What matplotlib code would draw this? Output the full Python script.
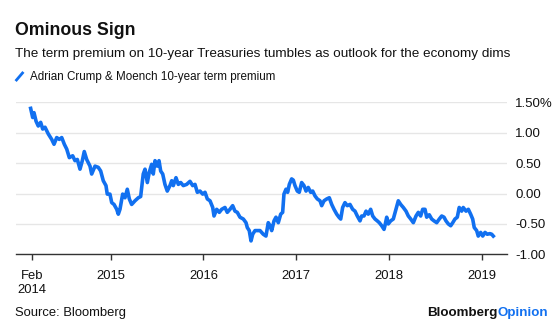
import matplotlib

matplotlib.use("Agg")

import matplotlib.pyplot as plt
from matplotlib.lines import Line2D

# Data (decimal year, term premium in %).
YEARS = [
    2014.137, 2014.159, 2014.173, 2014.195, 2014.219, 2014.245, 2014.267, 2014.292,
    2014.327, 2014.364, 2014.389, 2014.418, 2014.446, 2014.472, 2014.500, 2014.526,
    2014.554, 2014.590, 2014.615, 2014.640, 2014.669, 2014.694, 2014.715, 2014.741,
    2014.777, 2014.795, 2014.831, 2014.866, 2014.892, 2014.920, 2014.949, 2014.963,
    2014.992, 2015.011, 2015.036, 2015.065, 2015.082, 2015.100, 2015.129, 2015.154,
    2015.179, 2015.201, 2015.226, 2015.262, 2015.298, 2015.323, 2015.351, 2015.370,
    2015.395, 2015.416, 2015.442, 2015.459, 2015.478, 2015.502, 2015.521, 2015.539,
    2015.561, 2015.585, 2015.610, 2015.639, 2015.658, 2015.675, 2015.704, 2015.729,
    2015.755, 2015.783, 2015.819, 2015.855, 2015.884, 2015.909, 2015.934, 2015.963,
    2015.992, 2016.017, 2016.042, 2016.071, 2016.100, 2016.114, 2016.143, 2016.171,
    2016.197, 2016.232, 2016.257, 2016.286, 2016.315, 2016.340, 2016.365, 2016.394,
    2016.430, 2016.459, 2016.473, 2016.494, 2016.513, 2016.531, 2016.556, 2016.581,
    2016.610, 2016.645, 2016.674, 2016.699, 2016.718, 2016.736, 2016.761, 2016.782,
    2016.807, 2016.833, 2016.854, 2016.868, 2016.890, 2016.908, 2016.926, 2016.951,
    2016.969, 2016.987, 2017.012, 2017.033, 2017.059, 2017.084, 2017.106, 2017.130,
    2017.156, 2017.178, 2017.203, 2017.228, 2017.257, 2017.275, 2017.300, 2017.329,
    2017.357, 2017.383, 2017.408, 2017.437, 2017.461, 2017.480, 2017.501, 2017.526,
    2017.551, 2017.580, 2017.609, 2017.634, 2017.659, 2017.688, 2017.706, 2017.731,
    2017.753, 2017.777, 2017.803, 2017.825, 2017.850, 2017.874, 2017.896, 2017.922,
    2017.947, 2017.957, 2017.976, 2017.993, 2018.019, 2018.047, 2018.076, 2018.101,
    2018.127, 2018.155, 2018.184, 2018.209, 2018.235, 2018.263, 2018.292, 2018.317,
    2018.342, 2018.364, 2018.389, 2018.407, 2018.435, 2018.461, 2018.486, 2018.515,
    2018.543, 2018.569, 2018.594, 2018.615, 2018.640, 2018.666, 2018.688, 2018.712,
    2018.737, 2018.758, 2018.784, 2018.801, 2018.831, 2018.856, 2018.881, 2018.903,
    2018.920, 2018.946, 2018.963, 2018.989, 2019.011, 2019.036, 2019.060, 2019.089,
    2019.108, 2019.125,
]
PREMIUM = [
    1.40, 1.25, 1.33, 1.19, 1.11, 1.17, 1.06, 1.09,
    0.98, 0.89, 0.81, 0.92, 0.89, 0.92, 0.81, 0.73,
    0.59, 0.62, 0.54, 0.56, 0.40, 0.54, 0.69, 0.56,
    0.45, 0.32, 0.45, 0.43, 0.37, 0.21, 0.13, -0.01,
    -0.01, -0.15, -0.18, -0.26, -0.34, -0.26, -0.01, -0.07,
    0.07, -0.09, -0.18, -0.12, -0.07, -0.05, 0.32, 0.40,
    0.18, 0.35, 0.48, 0.32, 0.54, 0.45, 0.54, 0.37,
    0.32, 0.15, 0.04, 0.13, 0.21, 0.13, 0.26, 0.15,
    0.18, 0.13, 0.15, 0.20, 0.13, 0.15, 0.02, 0.04,
    -0.01, 0.02, -0.09, -0.12, -0.23, -0.37, -0.26, -0.31,
    -0.26, -0.23, -0.31, -0.26, -0.20, -0.29, -0.31, -0.39,
    -0.42, -0.48, -0.56, -0.61, -0.78, -0.67, -0.61, -0.61,
    -0.61, -0.67, -0.70, -0.48, -0.53, -0.61, -0.45, -0.39,
    -0.48, -0.34, -0.31, -0.01, 0.07, 0.02, 0.15, 0.24,
    0.22, 0.13, 0.04, 0.02, 0.18, 0.13, 0.04, 0.10,
    0.02, 0.04, -0.04, -0.09, -0.12, -0.20, -0.12, -0.09,
    -0.07, -0.18, -0.26, -0.34, -0.39, -0.42, -0.23, -0.15,
    -0.20, -0.18, -0.26, -0.29, -0.37, -0.45, -0.37, -0.37,
    -0.29, -0.34, -0.26, -0.37, -0.42, -0.45, -0.48, -0.53,
    -0.59, -0.53, -0.39, -0.50, -0.45, -0.42, -0.26, -0.12,
    -0.18, -0.23, -0.29, -0.37, -0.42, -0.48, -0.37, -0.31,
    -0.37, -0.26, -0.26, -0.39, -0.35, -0.42, -0.45, -0.48,
    -0.42, -0.37, -0.39, -0.45, -0.50, -0.53, -0.48, -0.42,
    -0.39, -0.23, -0.29, -0.23, -0.29, -0.26, -0.34, -0.42,
    -0.56, -0.61, -0.70, -0.64, -0.70, -0.64, -0.67, -0.66,
    -0.67, -0.70,
]
X_TICKS = [2014.148, 2015.0, 2016.0, 2017.0, 2018.0, 2019.0]
X_TICK_LABELS = ["Feb\n2014", "2015", "2016", "2017", "2018", "2019"]
Y_TICKS = [1.5, 1.0, 0.5, 0.0, -0.5, -1.0]
Y_TICK_LABELS = ["1.50%", "1.00", "0.50", "0.00", "-0.50", "-1.00"]

LINE_COLOR = "#1170F0"
GRID_COLOR = "#E6E6E6"
TEXT_COLOR = "#111111"
FONT = "Liberation Sans"

W, H = 560, 325

plt.rcParams["font.family"] = FONT

fig = plt.figure(figsize=(W / 100, H / 100), dpi=100)
ax = fig.add_axes([16 / W, 1 - 254.3 / H, (507 - 16) / W, (254.3 - 102.3) / H])

ax.plot(YEARS, PREMIUM, color=LINE_COLOR, linewidth=2.6, solid_joinstyle="round", zorder=3)

ax.set_xlim(2013.979, 2019.273)
ax.set_ylim(-1.0, 1.5)
ax.set_yticks(Y_TICKS)
ax.set_yticklabels(Y_TICK_LABELS)
ax.set_xticks(X_TICKS)
ax.set_xticklabels(X_TICK_LABELS, linespacing=1.3)

ax.yaxis.tick_right()
ax.tick_params(axis="y", length=0, pad=6, labelsize=9.5, labelcolor=TEXT_COLOR)
ax.tick_params(axis="x", length=4, width=1, color="#333333", pad=7, labelsize=9.4, labelcolor=TEXT_COLOR)
for lbl in ax.get_yticklabels():
    lbl.set_horizontalalignment("left")

ax.grid(True, axis="y", color=GRID_COLOR, linewidth=1.0)
ax.set_axisbelow(True)
for side in ["top", "left", "right"]:
    ax.spines[side].set_visible(False)
ax.spines["bottom"].set_color("#333333")
ax.spines["bottom"].set_linewidth(1.0)
ax.spines["bottom"].set_zorder(4)

# Header
fig.text(15 / W, 1 - 35 / H, "Ominous Sign", fontsize=12.8, fontweight="bold", color=TEXT_COLOR)
fig.text(15 / W, 1 - 57 / H,
         "The term premium on 10-year Treasuries tumbles as outlook for the economy dims",
         fontsize=9.7, color=TEXT_COLOR)
fig.add_artist(Line2D([16.5 / W, 22.5 / W], [1 - 80 / H, 1 - 73 / H], color=LINE_COLOR,
                      linewidth=2.0, transform=fig.transFigure))
fig.text(30 / W, 1 - 80 / H, "Adrian Crump & Moench 10-year term premium",
         fontsize=8.4, color=TEXT_COLOR)

# Footer
fig.text(15 / W, 1 - 316 / H, "Source: Bloomberg", fontsize=9.4, color=TEXT_COLOR)
fig.text(498 / W, 1 - 316 / H, "Bloomberg", fontsize=9.6, fontweight="bold",
         color=TEXT_COLOR, ha="right")
fig.text(498 / W, 1 - 316 / H, "Opinion", fontsize=9.6, fontweight="bold",
         color=LINE_COLOR, ha="left")

fig.savefig("out.png", dpi=100, facecolor="white")
